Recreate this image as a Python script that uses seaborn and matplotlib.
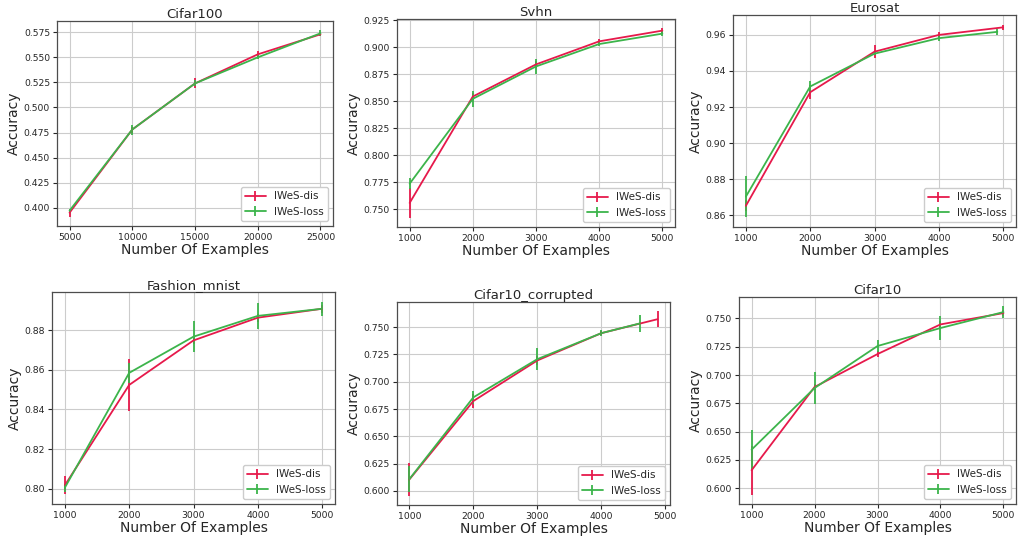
import matplotlib
matplotlib.use("Agg")
import matplotlib.pyplot as plt
import seaborn as sns

# Titles of the six panels
titles = ["Cifar100", "Svhn", "Eurosat", "Fashion_mnist", "Cifar10_corrupted", "Cifar10"]
series_names = ["IWeS-dis", "IWeS-loss"]

# Cifar100
cifar100_x_dis = [5000, 10000, 15000, 20000, 25000]
cifar100_x_loss = [5000, 10000, 15000, 20000, 25000]
cifar100_dis = [0.395, 0.478, 0.524, 0.553, 0.573]
cifar100_dis_err = [0.004, 0.003, 0.005, 0.003, 0.002]
cifar100_loss = [0.397, 0.478, 0.524, 0.550, 0.574]
cifar100_loss_err = [0.002, 0.005, 0.003, 0.002, 0.003]

# Svhn
svhn_x_dis = [1000, 2000, 3000, 4000, 5000]
svhn_x_loss = [1000, 2000, 3000, 4000, 5000]
svhn_dis = [0.756, 0.8543, 0.8840, 0.9053, 0.9152]
svhn_dis_err = [0.0135, 0.003, 0.003, 0.002, 0.002]
svhn_loss = [0.7738, 0.8522, 0.8821, 0.9028, 0.9124]
svhn_loss_err = [0.005, 0.0075, 0.007, 0.002, 0.002]

# Eurosat
eurosat_x_dis = [1000, 2000, 3000, 4000, 5000]
eurosat_x_loss = [1000, 2000, 3000, 4000, 4910]
eurosat_dis = [0.8652, 0.9282, 0.9507, 0.9600, 0.9642]
eurosat_dis_err = [0.003, 0.004, 0.0035, 0.0015, 0.0015]
eurosat_loss = [0.8703, 0.9314, 0.9496, 0.9582, 0.9617]
eurosat_loss_err = [0.0115, 0.003, 0.001, 0.0015, 0.0015]

# Fashion_mnist
fashion_x_dis = [1000, 2000, 3000, 4000, 5000]
fashion_x_loss = [1000, 2000, 3000, 4000, 5000]
fashion_dis = [0.8017, 0.8524, 0.8749, 0.8864, 0.8909]
fashion_dis_err = [0.0046, 0.013, 0.002, 0.002, 0.002]
fashion_loss = [0.8005, 0.8585, 0.8768, 0.8873, 0.8909]
fashion_loss_err = [0.002, 0.005, 0.0078, 0.0065, 0.0036]

# Cifar10_corrupted
corrupted_x_dis = [1000, 2000, 3000, 4000, 4880]
corrupted_x_loss = [1000, 2000, 3000, 4000, 4600]
corrupted_dis = [0.6105, 0.6823, 0.7195, 0.7445, 0.7573]
corrupted_dis_err = [0.015, 0.006, 0.004, 0.002, 0.0073]
corrupted_loss = [0.6108, 0.6857, 0.7207, 0.7445, 0.7534]
corrupted_loss_err = [0.012, 0.006, 0.010, 0.003, 0.008]

# Cifar10
cifar10_x_dis = [1000, 2000, 3000, 4000, 5000]
cifar10_x_loss = [1000, 2000, 3000, 4000, 5000]
cifar10_dis = [0.6159, 0.6894, 0.7185, 0.7447, 0.7547]
cifar10_dis_err = [0.0215, 0.003, 0.003, 0.003, 0.003]
cifar10_loss = [0.6341, 0.6885, 0.7256, 0.7415, 0.7556]
cifar10_loss_err = [0.0174, 0.0145, 0.0056, 0.011, 0.005]

x_ticks_small = [1000, 2000, 3000, 4000, 5000]
x_ticks_cifar100 = [5000, 10000, 15000, 20000, 25000]

panels = [
    (cifar100_x_dis, cifar100_dis, cifar100_dis_err, cifar100_x_loss, cifar100_loss, cifar100_loss_err, x_ticks_cifar100),
    (svhn_x_dis, svhn_dis, svhn_dis_err, svhn_x_loss, svhn_loss, svhn_loss_err, x_ticks_small),
    (eurosat_x_dis, eurosat_dis, eurosat_dis_err, eurosat_x_loss, eurosat_loss, eurosat_loss_err, x_ticks_small),
    (fashion_x_dis, fashion_dis, fashion_dis_err, fashion_x_loss, fashion_loss, fashion_loss_err, x_ticks_small),
    (corrupted_x_dis, corrupted_dis, corrupted_dis_err, corrupted_x_loss, corrupted_loss, corrupted_loss_err, x_ticks_small),
    (cifar10_x_dis, cifar10_dis, cifar10_dis_err, cifar10_x_loss, cifar10_loss, cifar10_loss_err, x_ticks_small),
]

sns.set_style("whitegrid", {
    "axes.edgecolor": "0.3",
    "grid.color": "0.8",
    "xtick.bottom": True,
    "ytick.left": True,
    "xtick.color": "0.15",
    "ytick.color": "0.15",
})
plt.rcParams["font.family"] = ["DejaVu Sans"]
colors = ["#e6194b", "#3cb44b"]

W, H = 1018, 546
fig = plt.figure(figsize=(W / 100, H / 100), dpi=100)

# panel boxes in pixels: left, top, right, bottom
boxes = [(57, 21, 333, 226), (397, 19, 675, 227), (733, 15, 1016, 227),
         (52, 292, 335, 504), (397, 302, 670, 505), (739, 297, 1016, 504)]

for title, box, panel in zip(titles, boxes, panels):
    l, t, r, b = box
    ax = fig.add_axes([l / W, 1 - b / H, (r - l) / W, (b - t) / H])
    xd, yd, ed, xl, yl, el, xt = panel
    ax.errorbar(xd, yd, yerr=ed, color=colors[0], lw=1.3, elinewidth=1.3, label=series_names[0])
    ax.errorbar(xl, yl, yerr=el, color=colors[1], lw=1.3, elinewidth=1.3, label=series_names[1])
    ax.set_xticks(xt)
    ax.set_title(title, fontsize=9.5, pad=2)
    ax.set_xlabel("Number Of Examples", fontsize=10, labelpad=1)
    ax.set_ylabel("Accuracy", fontsize=10, labelpad=2)
    ax.tick_params(labelsize=6.7, length=3, width=0.8, pad=2)
    for s in ax.spines.values():
        s.set_linewidth(0.9)
    ax.grid(True, lw=0.8)
    ax.legend(loc="lower right", fontsize=7.5, framealpha=1, edgecolor="0.8")

fig.savefig("out.png", dpi=100)
